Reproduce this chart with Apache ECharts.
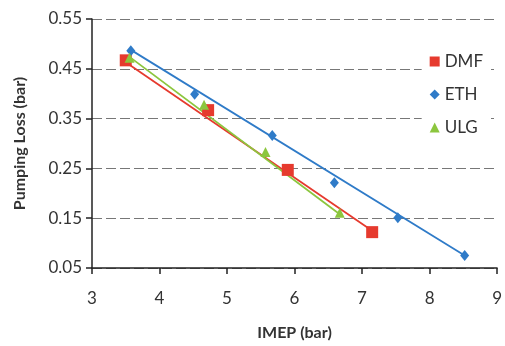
<!DOCTYPE html>
<html>
<head>
<meta charset="utf-8">
<script src="https://cdn.jsdelivr.net/npm/echarts@6/dist/echarts.min.js"></script>
<style>
  html, body { margin: 0; padding: 0; background: #fff; }
  #chart { width: 505px; height: 346px; }
</style>
</head>
<body>
<div id="chart"></div>
<script>
// measured points (IMEP, pumping loss)
const dmfPoints = [[3.50, 0.467], [4.72, 0.367], [5.90, 0.247], [7.15, 0.122]];
const ethPoints = [[3.575, 0.486], [4.52, 0.399], [5.67, 0.316], [6.59, 0.221], [7.53, 0.151], [8.52, 0.075]];
const ulgPoints = [[3.556, 0.472], [4.66, 0.378], [5.57, 0.283], [6.67, 0.161]];

// trend line end points
const dmfTrend = [[3.50, 0.463], [7.15, 0.125]];
const ethTrend = [[3.575, 0.488], [8.52, 0.075]];
const ulgTrend = [[3.556, 0.474], [6.67, 0.158]];

const xTicks = [3, 4, 5, 6, 7, 8, 9];
const yTicks = [0.05, 0.15, 0.25, 0.35, 0.45, 0.55];

const RED = '#e63a2e';
const BLUE = '#2f7bc8';
const GREEN = '#8cc63e';
const FONT = 'Lato, "Open Sans", sans-serif';

const chart = echarts.init(document.getElementById('chart'));

function trend(name, data, color) {
  return {
    name: name,
    type: 'line',
    data: data,
    symbol: 'none',
    silent: true,
    z: 2,
    lineStyle: { color: color, width: 1.8 },
  };
}

function points(name, data, color, symbol, size) {
  return {
    name: name,
    type: 'scatter',
    data: data,
    symbol: symbol,
    symbolSize: size,
    z: 3,
    itemStyle: { color: color, opacity: 1 },
  };
}

chart.setOption({
  animation: false,
  textStyle: { fontFamily: FONT },
  grid: { left: 92, right: 6, top: 19, bottom: 74 },
  legend: {
    data: [
      { name: 'DMF', icon: 'rect' },
      { name: 'ETH', icon: 'diamond' },
      { name: 'ULG', icon: 'triangle' },
    ],
    orient: 'vertical',
    right: 14,
    top: 49,
    itemWidth: 10,
    itemHeight: 10,
    itemGap: 16,
    padding: [4, 8, 4, 8],
    backgroundColor: '#fff',
    textStyle: { fontFamily: FONT, fontSize: 17, color: '#333' },
    z: 10,
  },
  xAxis: {
    type: 'value',
    min: 3,
    max: 9,
    interval: 1,
    axisLine: { show: true, lineStyle: { color: '#222', width: 1.5 } },
    axisTick: { show: true, length: 6, lineStyle: { color: '#222', width: 1.5 } },
    axisLabel: { fontSize: 17, color: '#333', margin: 22, fontFamily: FONT,
      formatter: v => xTicks.includes(v) ? String(v) : '' },
    splitLine: { show: false },
    name: 'IMEP (bar)',
    nameLocation: 'middle',
    nameGap: 57,
    nameTextStyle: { fontSize: 16, fontWeight: 'bold', color: '#333', fontFamily: FONT },
  },
  yAxis: {
    type: 'value',
    min: 0.05,
    max: 0.55,
    interval: 0.1,
    axisLine: { show: true, lineStyle: { color: '#222', width: 1.5 } },
    axisTick: { show: true, length: 6, lineStyle: { color: '#222', width: 1.5 } },
    axisLabel: { fontSize: 17, color: '#333', margin: 10, fontFamily: FONT,
      formatter: v => {
        const t = yTicks.find(y => Math.abs(y - v) < 1e-6);
        return t !== undefined ? t.toFixed(2) : '';
      } },
    splitLine: { show: true, lineStyle: { color: '#777', width: 1.2, type: [10, 4] } },
    name: 'Pumping Loss (bar)',
    nameLocation: 'middle',
    nameGap: 64,
    nameTextStyle: { fontSize: 16, fontWeight: 'bold', color: '#333', fontFamily: FONT },
  },
  series: [
    trend('DMF trend', dmfTrend, RED),
    trend('ETH trend', ethTrend, BLUE),
    trend('ULG trend', ulgTrend, GREEN),
    points('DMF', dmfPoints, RED, 'rect', 12),
    points('ETH', ethPoints, BLUE, 'diamond', [9, 11]),
    points('ULG', ulgPoints, GREEN, 'triangle', 10),
  ],
});
</script>
</body>
</html>
